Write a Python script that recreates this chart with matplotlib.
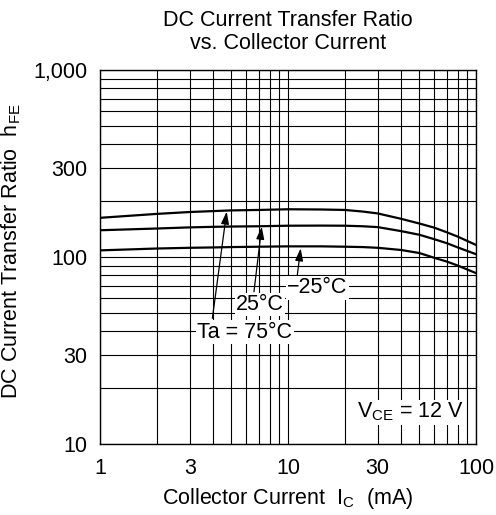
import matplotlib
matplotlib.use("Agg")
import matplotlib.pyplot as plt
from matplotlib.ticker import FixedLocator, LogLocator, NullFormatter, FixedFormatter

plt.rcParams['font.family'] = ['Liberation Sans', 'DejaVu Sans']
plt.rcParams['mathtext.fontset'] = 'custom'
plt.rcParams['mathtext.rm'] = 'Liberation Sans'
plt.rcParams['mathtext.it'] = 'Liberation Sans'

# Data
ic_ma = [1, 2, 3, 4, 5, 7, 10, 15, 20, 25, 30, 40, 50, 60, 70, 80, 100]
hfe_75 = [162, 170, 174, 176, 177.5, 178.5, 180, 179.5, 178.5, 175, 171, 160, 151, 143.5, 135.5, 128.5, 116]
hfe_25 = [139, 142, 144, 145, 145.5, 146, 147, 147.2, 147, 146, 144.5, 137.5, 131.5, 124.5, 118.5, 112.5, 103.5]
hfe_m25 = [108.5, 111, 112, 112.5, 113, 113.5, 114, 114, 113.5, 113, 112, 109, 105, 99, 94.5, 90, 82]

x_ticks = [1, 3, 10, 30, 100]
x_tick_labels = ['1', '3', '10', '30', '100']
y_ticks = [10, 30, 100, 300, 1000]
y_tick_labels = ['10', '30', '100', '300', '1,000']

curve_labels = ['Ta = 75°C', '25°C', '\u221225°C']
label_pos = [(5.90, 37.0), (7.10, 52.1), (14.35, 64.0)]
arrow_tips = [(4.72, 175), (7.25, 145.2), (11.68, 111.3)]
arrow_tails = [(3.96, 47.0), (6.59, 65.2), (11.21, 80.1)]

FS = 15.5

fig = plt.figure(figsize=(4.96, 5.15), dpi=100)
ax = fig.add_axes([100/496, 1-444/515, 376/496, 374/515])
ax.set_xscale('log')
ax.set_yscale('log')
ax.set_xlim(1, 100)
ax.set_ylim(10, 1000)

ax.xaxis.set_major_locator(FixedLocator(x_ticks))
ax.xaxis.set_major_formatter(FixedFormatter(x_tick_labels))
ax.yaxis.set_major_locator(FixedLocator(y_ticks))
ax.yaxis.set_major_formatter(FixedFormatter(y_tick_labels))
ax.xaxis.set_minor_locator(LogLocator(base=10, subs=range(1, 10)))
ax.yaxis.set_minor_locator(LogLocator(base=10, subs=range(1, 10)))
ax.xaxis.set_minor_formatter(NullFormatter())
ax.yaxis.set_minor_formatter(NullFormatter())
ax.tick_params(which='both', length=0, labelsize=FS)
ax.tick_params(axis='x', pad=10)
ax.tick_params(axis='y', pad=9)
ax.grid(which='both', color='black', lw=0.8)
for s in ax.spines.values():
    s.set_linewidth(1.0)
    s.set_color('black')

for y in (hfe_75, hfe_25, hfe_m25):
    ax.plot(ic_ma, y, color='black', lw=1.6, zorder=3, solid_joinstyle='round')

for tip, tail in zip(arrow_tips, arrow_tails):
    ax.annotate('', xy=tip, xytext=tail,
                arrowprops=dict(arrowstyle='-|>,head_length=0.5,head_width=0.16',
                                color='black', lw=0.9, shrinkA=0, shrinkB=0,
                                mutation_scale=15), zorder=4)

for txt, (xx, yy) in zip(curve_labels, label_pos):
    ax.text(xx, yy, txt, ha='center', va='baseline', fontsize=FS, zorder=5,
            bbox=dict(facecolor='white', edgecolor='none', pad=1.0))

ax.text(85.6, 13.8, r'V$_{\mathrm{CE}}$ = 12 V', ha='right', va='baseline', fontsize=FS,
        zorder=5, bbox=dict(facecolor='white', edgecolor='none', pad=1.0))

ax.set_title('DC Current Transfer Ratio\nvs. Collector Current', fontsize=FS, pad=15,
             linespacing=1.15)
ax.set_xlabel(r'Collector Current  I$_{\mathrm{C}}$  (mA)', fontsize=FS, labelpad=5)
ax.set_ylabel(r'DC Current Transfer Ratio  h$_{\mathrm{FE}}$', fontsize=FS)
ax.yaxis.set_label_coords(-0.205, 0.515)

fig.savefig('out.png', dpi=100)
